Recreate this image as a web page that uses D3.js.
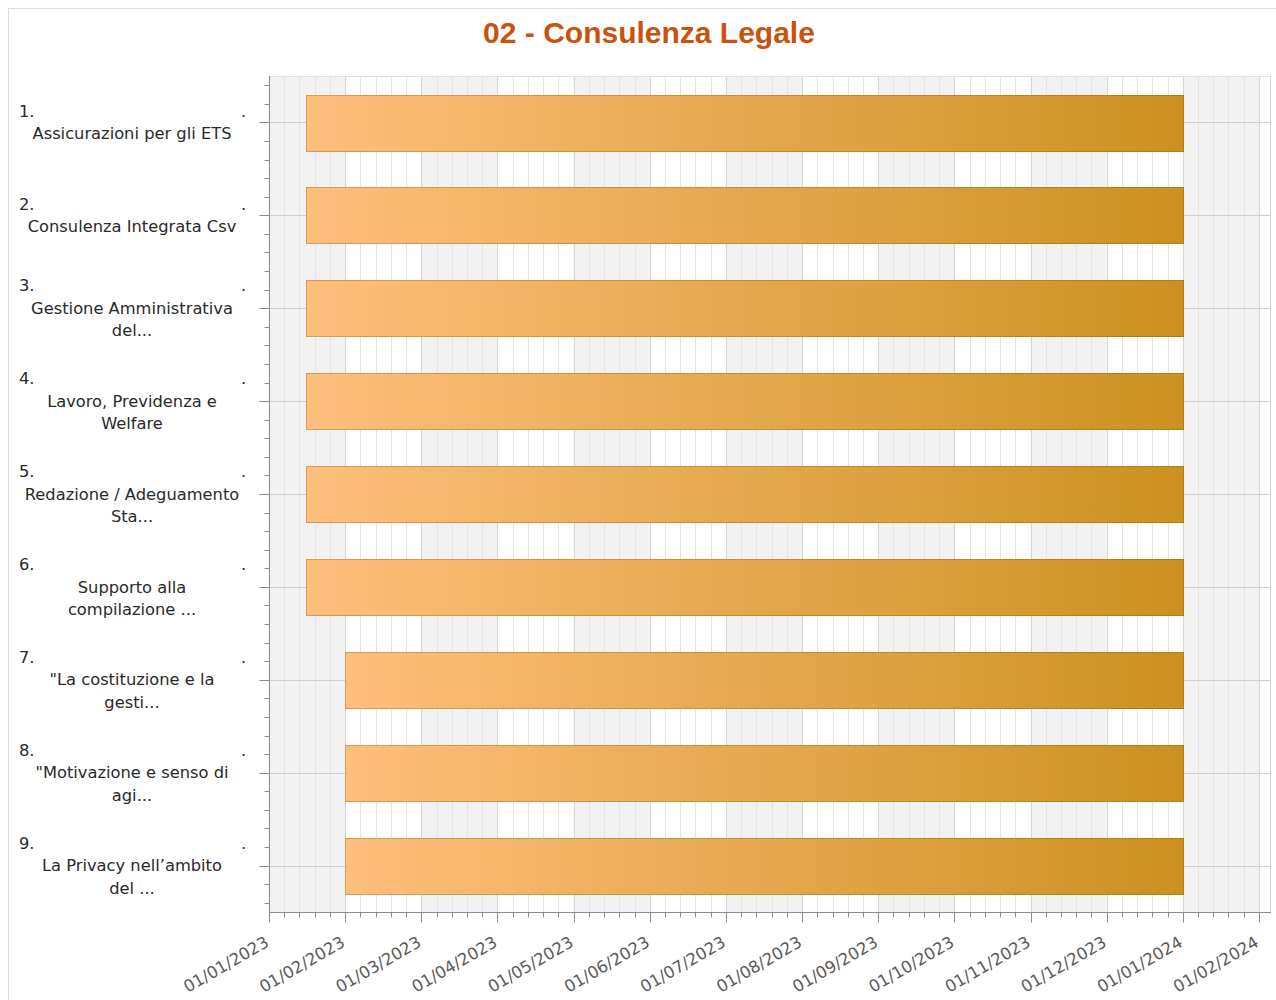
<!DOCTYPE html>
<html>
<head>
<meta charset="utf-8">
<script src="https://cdn.jsdelivr.net/npm/d3@7"></script>
<style>
  html, body { margin: 0; padding: 0; background: #fff; }
  svg { display: block; }
</style>
</head>
<body>
<svg id="chart" width="1276" height="1000"></svg>
<script>
// ---------- DATA ----------
const title = "02 - Consulenza Legale";
const categoryNumbers = ["1.", "2.", "3.", "4.", "5.", "6.", "7.", "8.", "9."];
const categoryLines = [
  ["Assicurazioni per gli ETS"],
  ["Consulenza Integrata Csv"],
  ["Gestione Amministrativa", "del..."],
  ["Lavoro, Previdenza e", "Welfare"],
  ["Redazione / Adeguamento", "Sta..."],
  ["Supporto alla", "compilazione ..."],
  ["\"La costituzione e la", "gesti..."],
  ["\"Motivazione e senso di", "agi..."],
  ["La Privacy nell’ambito", "del ..."]
];
const startDates = ["2023-01-16", "2023-01-16", "2023-01-16", "2023-01-16", "2023-01-16", "2023-01-16", "2023-02-01", "2023-02-01", "2023-02-01"];
const endDates = ["2024-01-01", "2024-01-01", "2024-01-01", "2024-01-01", "2024-01-01", "2024-01-01", "2024-01-01", "2024-01-01", "2024-01-01"];
const tickDates = ["2023-01-01", "2023-02-01", "2023-03-01", "2023-04-01", "2023-05-01", "2023-06-01", "2023-07-01",
                   "2023-08-01", "2023-09-01", "2023-10-01", "2023-11-01", "2023-12-01", "2024-01-01", "2024-02-01"];
const tickLabels = ["01/01/2023", "01/02/2023", "01/03/2023", "01/04/2023", "01/05/2023", "01/06/2023", "01/07/2023",
                    "01/08/2023", "01/09/2023", "01/10/2023", "01/11/2023", "01/12/2023", "01/01/2024", "01/02/2024"];

// ---------- HELPERS ----------
// the axis places every month at equal spacing: convert a date to a fractional month index
function monthIndex(s) {
  const [y, m, d] = s.split("-").map(Number);
  const dim = new Date(y, m, 0).getDate();
  return (y - 2023) * 12 + (m - 1) + (d - 1) / dim;
}

const svg = d3.select("#chart");
const W = 1276, H = 1000;
const plot = { left: 269, top: 76, right: 1270, bottom: 912 };

// outer frame
svg.append("rect").attr("x", 8.5).attr("y", 8.5).attr("width", W + 10).attr("height", H + 10)
  .attr("fill", "#fff").attr("stroke", "#dcdcdc");

// title
svg.append("text").attr("x", 649).attr("y", 43).attr("text-anchor", "middle")
  .attr("font-family", "'Liberation Sans', Arial, sans-serif").attr("font-weight", "bold")
  .attr("font-size", 30).attr("fill", "#c9520f").text(title);

// scales
const monthsVisible = 13.145;
const x = d3.scaleLinear().domain([0, monthsVisible]).range([plot.left, plot.right]);
const y = d3.scaleBand().domain(categoryNumbers).range([plot.top, plot.bottom]).paddingInner(0.4).paddingOuter(0.2);
const step = y.step();

const tickIdx = tickDates.map(monthIndex);
const minorIdx = d3.range(0, monthsVisible, 0.2).filter(v => Math.abs(v - Math.round(v)) > 1e-6);

const g = svg.append("g");

// alternating background bands
g.selectAll("rect.band").data(tickIdx.filter((d, i) => i % 2 === 0)).join("rect")
  .attr("class", "band")
  .attr("x", d => x(d)).attr("y", plot.top)
  .attr("width", d => Math.min(x(d + 1), plot.right) - x(d)).attr("height", plot.bottom - plot.top)
  .attr("fill", "#f2f2f2");

// minor vertical gridlines
g.selectAll("line.vminor").data(minorIdx).join("line")
  .attr("x1", d => Math.round(x(d)) + 0.5).attr("x2", d => Math.round(x(d)) + 0.5)
  .attr("y1", plot.top).attr("y2", plot.bottom)
  .attr("stroke", "#e4e4e4").attr("stroke-width", 1);

// major vertical gridlines
g.selectAll("line.vmajor").data(tickIdx.slice(1)).join("line")
  .attr("x1", d => Math.round(x(d)) + 0.5).attr("x2", d => Math.round(x(d)) + 0.5)
  .attr("y1", plot.top).attr("y2", plot.bottom)
  .attr("stroke", "#d6d6d6").attr("stroke-width", 1);

// horizontal gridlines at category centres
g.selectAll("line.hgrid").data(categoryNumbers).join("line")
  .attr("x1", plot.left - 10).attr("x2", plot.right)
  .attr("y1", d => Math.round(y(d) + y.bandwidth() / 2) + 0.5)
  .attr("y2", d => Math.round(y(d) + y.bandwidth() / 2) + 0.5)
  .attr("stroke", "#cfcfcf").attr("stroke-width", 1);

// plot border top/right
svg.append("line").attr("x1", plot.left).attr("x2", plot.right + 0.5).attr("y1", plot.top + 0.5).attr("y2", plot.top + 0.5)
  .attr("stroke", "#e2e2e2");
svg.append("line").attr("x1", plot.right + 0.5).attr("x2", plot.right + 0.5).attr("y1", plot.top).attr("y2", plot.bottom)
  .attr("stroke", "#d6d6d6");

// gradients
const defs = svg.append("defs");
const grad = defs.append("linearGradient").attr("id", "barGrad").attr("x1", "0%").attr("x2", "100%").attr("y1", "0%").attr("y2", "0%");
grad.append("stop").attr("offset", "0%").attr("stop-color", "#fdbf7c");
grad.append("stop").attr("offset", "100%").attr("stop-color", "#cc9120");
const sgrad = defs.append("linearGradient").attr("id", "barStroke").attr("x1", "0%").attr("x2", "100%").attr("y1", "0%").attr("y2", "0%");
sgrad.append("stop").attr("offset", "0%").attr("stop-color", "#dc9a52");
sgrad.append("stop").attr("offset", "100%").attr("stop-color", "#b07c15");

// bars
const bars = categoryNumbers.map((c, i) => ({ c, s: monthIndex(startDates[i]), e: monthIndex(endDates[i]) }));
svg.append("g").selectAll("rect.bar").data(bars).join("rect")
  .attr("class", "bar")
  .attr("x", d => Math.round(x(d.s)) + 0.5)
  .attr("y", d => Math.round(y(d.c)) + 0.5)
  .attr("width", d => Math.round(x(d.e)) - Math.round(x(d.s)))
  .attr("height", d => Math.round(y.bandwidth()))
  .attr("fill", "url(#barGrad)")
  .attr("stroke", "url(#barStroke)").attr("stroke-width", 1);

// ---------- AXES ----------
const axisColor = "#8a8a8a";
// x axis line & ticks
const xAxis = svg.append("g").attr("transform", `translate(0,${plot.bottom + 0.5})`);
xAxis.append("line").attr("x1", plot.left).attr("x2", plot.right + 1).attr("y1", 0).attr("y2", 0).attr("stroke", axisColor);
xAxis.selectAll("line.maj").data(tickIdx).join("line")
  .attr("x1", d => Math.round(x(d)) + 0.5).attr("x2", d => Math.round(x(d)) + 0.5)
  .attr("y1", 0).attr("y2", 10).attr("stroke", axisColor);
xAxis.selectAll("line.min").data(minorIdx).join("line")
  .attr("x1", d => Math.round(x(d)) + 0.5).attr("x2", d => Math.round(x(d)) + 0.5)
  .attr("y1", 0).attr("y2", 5).attr("stroke", axisColor);
xAxis.selectAll("text").data(tickIdx).join("text")
  .attr("transform", d => `translate(${x(d) + 1},${33}) rotate(-30)`)
  .attr("text-anchor", "end")
  .attr("font-family", "'DejaVu Sans', Tahoma, sans-serif").attr("font-size", 16.5)
  .attr("fill", "#5a5a5a")
  .text((d, i) => tickLabels[i]);

// y axis line & ticks
const yAxis = svg.append("g").attr("transform", `translate(${plot.left + 0.5},0)`);
yAxis.append("line").attr("x1", 0).attr("x2", 0).attr("y1", plot.top).attr("y2", plot.bottom + 1).attr("stroke", axisColor);
const centers = categoryNumbers.map(c => y(c) + y.bandwidth() / 2);
const yMinor = [];
centers.forEach((cy, i) => {
  for (let k = -2; k <= 2; k++) if (k !== 0) yMinor.push(cy + k * step / 5);
});
yAxis.selectAll("line.maj").data(centers).join("line")
  .attr("x1", -10).attr("x2", 0)
  .attr("y1", d => Math.round(d) + 0.5).attr("y2", d => Math.round(d) + 0.5).attr("stroke", axisColor);
yAxis.selectAll("line.min").data(yMinor.filter(v => v > plot.top + 2 && v < plot.bottom - 2)).join("line")
  .attr("x1", -5).attr("x2", 0)
  .attr("y1", d => Math.round(d) + 0.5).attr("y2", d => Math.round(d) + 0.5).attr("stroke", axisColor);

// y labels
const labelFont = "'DejaVu Sans', Tahoma, sans-serif";
const labelSize = 16.3;
const lineH = 22.5;
const lab = svg.append("g").attr("font-family", labelFont).attr("font-size", labelSize).attr("fill", "#2a2a2a");
categoryNumbers.forEach((c, i) => {
  const lines = categoryLines[i];
  const n = lines.length + 1;
  const cy = y(c) + y.bandwidth() / 2;
  const firstY = cy - (n - 1) * lineH / 2;
  lab.append("text").attr("x", 19).attr("y", firstY).attr("dy", "0.35em").text(c);
  lab.append("text").attr("x", 241).attr("y", firstY).attr("dy", "0.35em").text(".");
  lines.forEach((t, j) => {
    lab.append("text").attr("x", 132).attr("y", firstY + (j + 1) * lineH).attr("dy", "0.35em")
      .attr("text-anchor", "middle").text(t);
  });
});
</script>
</body>
</html>
